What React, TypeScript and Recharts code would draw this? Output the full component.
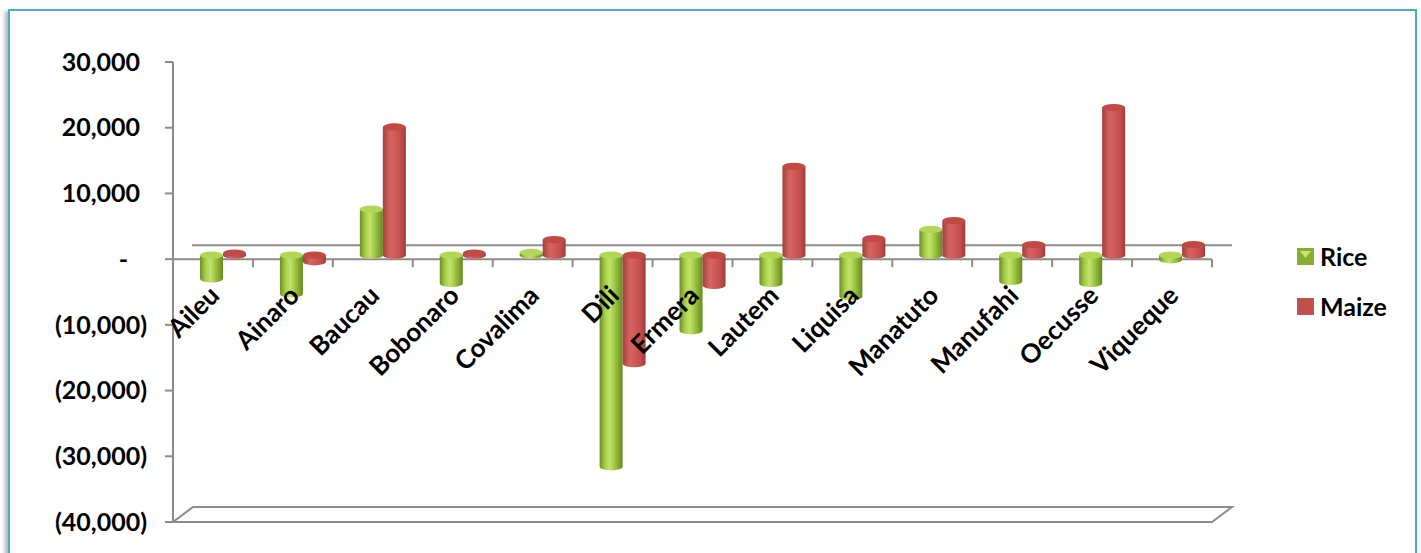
import React from "react";
import {
  BarChart,
  Bar,
  XAxis,
  YAxis,
  ReferenceLine,
} from "recharts";

const categories = [
  "Aileu",
  "Ainaro",
  "Baucau",
  "Bobonaro",
  "Covalima",
  "Dili",
  "Ermera",
  "Lautem",
  "Liquisa",
  "Manatuto",
  "Manufahi",
  "Oecusse",
  "Viqueque",
];
const riceValues = [-3600, -5900, 7000, -4300, 400, -32200, -11500, -4300, -6300, 3900, -4000, -4300, -700];
const maizeValues = [300, -1000, 19500, 300, 2350, -16500, -4600, 13500, 2500, 5250, 1600, 22450, 1600];
const yTicks = [-40000, -30000, -20000, -10000, 0, 10000, 20000, 30000];
const seriesNames = ["Rice", "Maize"];

const data = categories.map((name, i) => ({
  name,
  rice: riceValues[i],
  maize: maizeValues[i],
}));

// layout
const W = 1421;
const H = 553;
const PLOT_LEFT = 173;
const PLOT_RIGHT = 1212;
const PLOT_TOP = 62;
const PLOT_BOTTOM = 522;
const Y_AXIS_W = 110;
const Y_MIN = -40000;
const Y_MAX = 30000;
const ZERO_Y = PLOT_TOP + ((Y_MAX - 0) / (Y_MAX - Y_MIN)) * (PLOT_BOTTOM - PLOT_TOP);
const BAND = (PLOT_RIGHT - PLOT_LEFT) / categories.length;
// 3d depth shift
const DX = 10;
const DY = -4;
const FONT = "Lato, 'Open Sans', sans-serif";
const AXIS_GREY = "#8c8c8c";

const fmt = (v: number) =>
  v === 0 ? "-" : v < 0 ? `(${Math.abs(v).toLocaleString("en-US")})` : v.toLocaleString("en-US");

const Cylinder = (props: any) => {
  const { x, y, width, height, kind } = props;
  if (x == null || y == null) return null;
  const top = Math.min(y, y + height) + DY;
  const h = Math.abs(height);
  const left = x + DX;
  const rx = width / 2;
  const ry = width * 0.16;
  const bottom = top + h;
  const body = `M${left},${top} L${left},${bottom} A${rx},${ry} 0 0 0 ${left + width},${bottom} L${left + width},${top} Z`;
  return (
    <g>
      <path d={body} fill={`url(#${kind}Body)`} />
      <ellipse cx={left + rx} cy={top} rx={rx} ry={ry} fill={kind === "rice" ? "#b3d65a" : "#c14a46"} />
    </g>
  );
};

const YTick = (props: any) => {
  const { x, y, payload } = props;
  const v = payload.value;
  const pad = v === 0 ? 19 : v > 0 ? 7 : 0;
  return (
    <text x={x - pad} y={y} dy="0.35em" textAnchor="end" fontFamily={FONT} fontSize={25} fontWeight={700} fill="#000">
      {fmt(v)}
    </text>
  );
};

const CatTick = (props: any) => {
  const { x, payload } = props;
  const ex = x + 8;
  const ey = ZERO_Y + 38;
  return (
    <g>
      <line x1={x + BAND / 2} y1={ZERO_Y} x2={x + BAND / 2} y2={ZERO_Y + 8} stroke={AXIS_GREY} strokeWidth={2} />
      <text
        x={ex}
        y={ey}
        textAnchor="end"
        transform={`rotate(-45 ${ex} ${ey})`}
        fontFamily={FONT}
        fontSize={26}
        fontWeight={700}
        fill="#000"
      >
        {payload.value}
      </text>
    </g>
  );
};

const ZeroPlane = (props: any) => {
  const { x1, y1, x2 } = props;
  return (
    <g stroke={AXIS_GREY} strokeWidth={2}>
      <line x1={x1 + 19} y1={y1 - 14} x2={x2 + 20} y2={y1 - 14} />
      <line x1={x1} y1={y1} x2={x2} y2={y1} />
    </g>
  );
};

const Floor = (props: any) => {
  const { x1, y1, x2 } = props;
  return (
    <g stroke={AXIS_GREY} strokeWidth={2} fill="none">
      <path d={`M${x1},${y1} L${x2},${y1} L${x2 + 20},${y1 - 15} L${x1 + 20},${y1 - 15} Z`} />
    </g>
  );
};

const LegendBox = () => (
  <div style={{ position: "absolute", left: 1297, top: 242, fontFamily: FONT, fontWeight: 700, fontSize: 25 }}>
    {seriesNames.map((s, i) => (
      <div key={s} style={{ display: "flex", alignItems: "center", height: 28, marginBottom: i === 0 ? 22 : 0 }}>
        <svg width={17} height={17} style={{ marginRight: 6 }}>
          {i === 0 ? (
            <>
              <rect x={0} y={0} width={17} height={17} fill="#86ad34" />
              <polygon points="3,3 14,3 8.5,10" fill="#cde56f" />
            </>
          ) : (
            <rect x={0} y={0} width={17} height={17} fill="#c0504d" />
          )}
        </svg>
        <span>{s}</span>
      </div>
    ))}
  </div>
);

export default function App() {
  return (
    <div style={{ position: "absolute", left: 0, top: 0, width: W, height: H, overflow: "hidden", background: "#fff" }}>
      <div
        style={{
          position: "absolute",
          left: 8,
          top: 9,
          width: 1409,
          height: 620,
          border: "2px solid #4bacc6",
          boxSizing: "border-box",
          boxShadow: "-3px 2px 4px rgba(0,0,0,0.3)",
        }}
      />
      <div style={{ position: "absolute", left: 0, top: 0 }}>
        <BarChart
          width={W}
          height={H}
          data={data}
          barSize={23}
          barGap={0}
          margin={{ top: PLOT_TOP, right: W - PLOT_RIGHT, bottom: 0, left: PLOT_LEFT - Y_AXIS_W }}
        >
          <defs>
            <linearGradient id="riceBody" x1="0" y1="0" x2="1" y2="0">
              <stop offset="0%" stopColor="#6c9023" />
              <stop offset="25%" stopColor="#a9d04c" />
              <stop offset="45%" stopColor="#c2e36a" />
              <stop offset="75%" stopColor="#8fb737" />
              <stop offset="100%" stopColor="#668a20" />
            </linearGradient>
            <linearGradient id="maizeBody" x1="0" y1="0" x2="1" y2="0">
              <stop offset="0%" stopColor="#a53e3b" />
              <stop offset="30%" stopColor="#d5635f" />
              <stop offset="50%" stopColor="#d25e5a" />
              <stop offset="80%" stopColor="#bf4d49" />
              <stop offset="100%" stopColor="#a03b38" />
            </linearGradient>
          </defs>
          <XAxis
            dataKey="name"
            height={H - PLOT_BOTTOM}
            axisLine={false}
            tickLine={false}
            interval={0}
            tick={<CatTick />}
          />
          <YAxis
            width={Y_AXIS_W}
            domain={[Y_MIN, Y_MAX]}
            ticks={yTicks}
            interval={0}
            tickSize={8}
            tickMargin={18}
            axisLine={{ stroke: AXIS_GREY, strokeWidth: 2 }}
            tickLine={{ stroke: AXIS_GREY, strokeWidth: 2 }}
            tick={<YTick />}
          />
          <ReferenceLine y={Y_MIN} shape={<Floor />} zIndex={0} />
          <ReferenceLine y={0} shape={<ZeroPlane />} zIndex={0} />
          <Bar dataKey="rice" name="Rice" isAnimationActive={false} shape={<Cylinder kind="rice" />} />
          <Bar dataKey="maize" name="Maize" isAnimationActive={false} shape={<Cylinder kind="maize" />} />
        </BarChart>
      </div>
      <LegendBox />
    </div>
  );
}
